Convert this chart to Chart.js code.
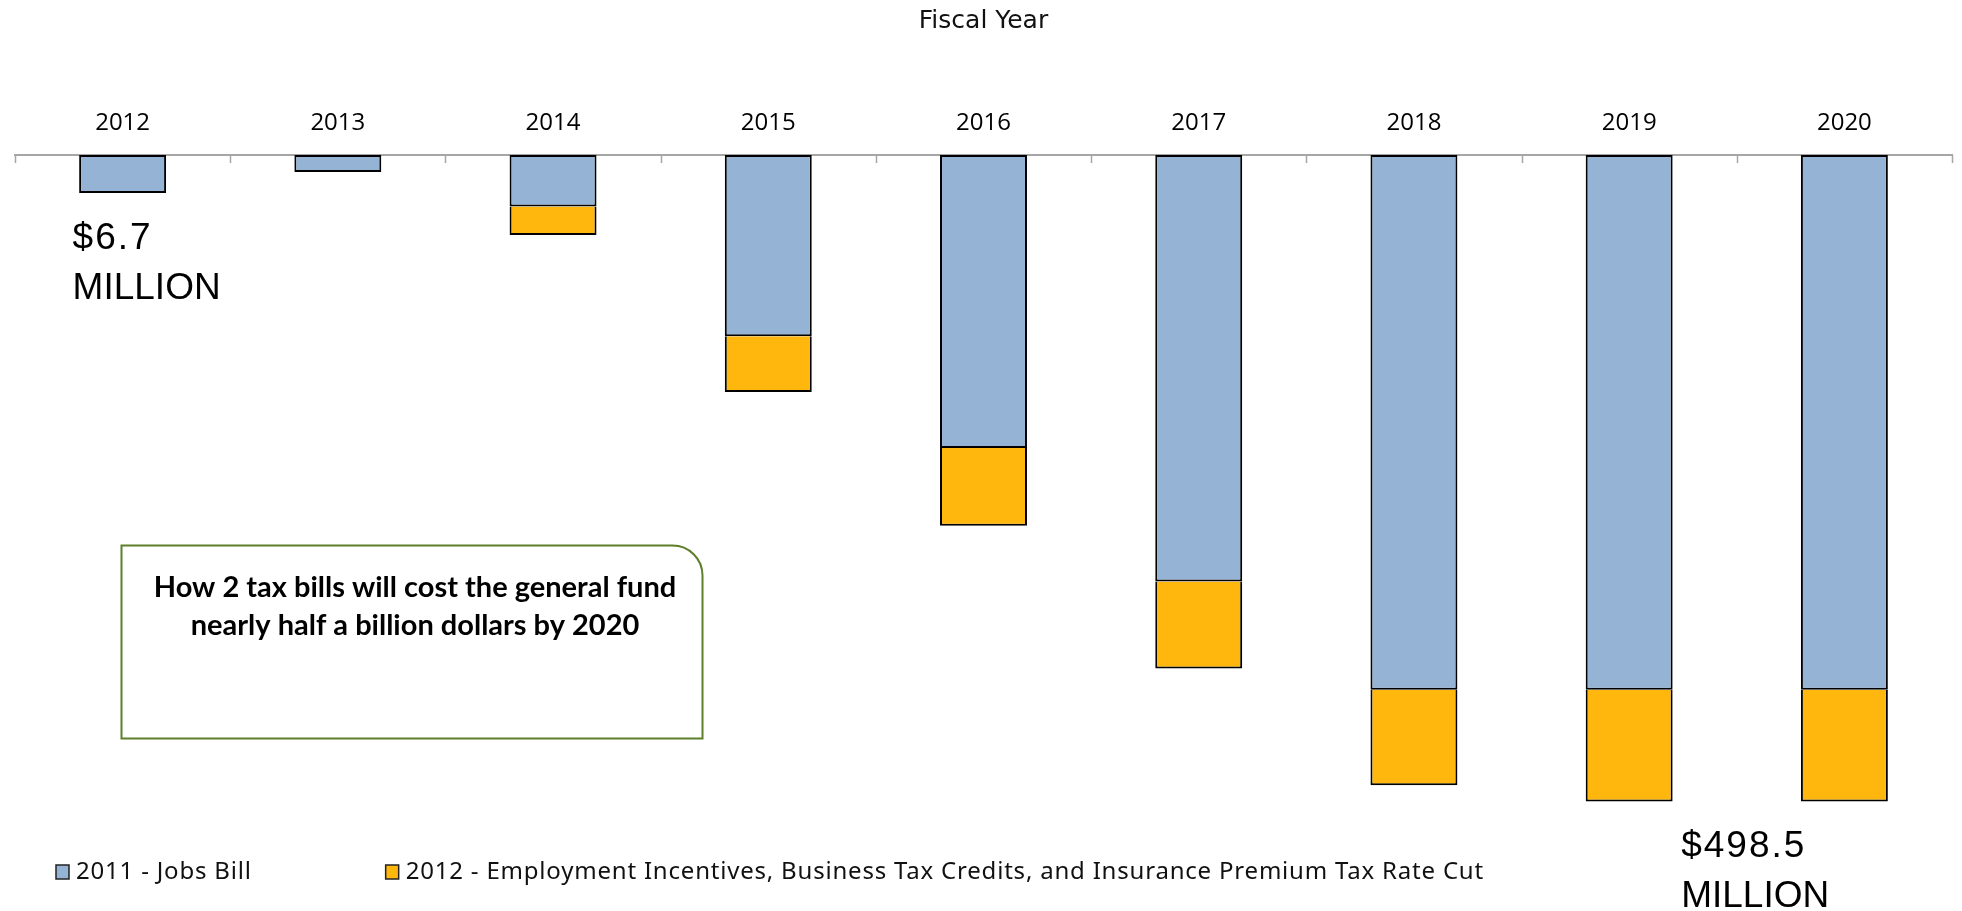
<!DOCTYPE html>
<html>
<head>
<meta charset="utf-8">
<script src="https://cdn.jsdelivr.net/npm/chart.js@4.4.1/dist/chart.umd.min.js"></script>
<style>
  html, body { margin: 0; padding: 0; background: #fff; }
  #wrap { width: 1962px; height: 911px; position: relative; }
</style>
</head>
<body>
<div id="wrap"><canvas id="costChart"></canvas></div>
<script>
// values in $ millions
const years = ["2012", "2013", "2014", "2015", "2016", "2017", "2018", "2019", "2020"];
const jobsBill = [29.3, 13.1, 39.8, 139.8, 226.0, 328.8, 412.3, 412.3, 412.3];
const employmentIncentives = [null, null, 21.9, 43.0, 59.9, 67.1, 73.8, 86.2, 86.2];

const seriesNames = [
  "2011 - Jobs Bill",
  "2012 - Employment Incentives, Business Tax Credits, and Insurance Premium Tax Rate Cut",
];
const seriesColors = ["#95B3D4", "#FFB70D"];
const axisTitle = "Fiscal Year";
const yMax = 529;

const boxLines = ["How 2 tax bills will cost the general fund", "nearly half a billion dollars by 2020"];
const firstCallout = ["$6.7", "MILLION"];
const lastCallout = ["$498.5", "MILLION"];

// small tick marks hanging under the axis line, at the category boundaries
const axisTicks = {
  id: "axisTicks",
  afterDraw(chart) {
    const { ctx } = chart;
    const x = chart.scales.x;
    const step = (x.right - x.left) / years.length;
    ctx.save();
    ctx.strokeStyle = "#A6A6A6";
    ctx.lineWidth = 1.5;
    for (let i = 0; i <= years.length; i++) {
      const px = Math.round(x.left + i * step) + 0.5;
      ctx.beginPath();
      ctx.moveTo(px, x.bottom);
      ctx.lineTo(px, x.bottom + 8);
      ctx.stroke();
    }
    ctx.restore();
  },
};

// "$6.7 MILLION" and "$498.5 MILLION" notes
const callouts = {
  id: "callouts",
  afterDraw(chart) {
    const { ctx } = chart;
    const x = chart.scales.x;
    const y = chart.scales.y;
    const total = (i) => (jobsBill[i] || 0) + (employmentIncentives[i] || 0);
    const notes = [
      { idx: 0, dx: -50, lines: firstCallout },
      { idx: 7, dx: 52, lines: lastCallout },
    ];
    ctx.save();
    ctx.fillStyle = "#000";
    ctx.textAlign = "left";
    ctx.textBaseline = "alphabetic";
    ctx.font = "37px 'Liberation Sans'";
    notes.forEach((n) => {
      const left = x.getPixelForValue(n.idx) + n.dx;
      const base = y.getPixelForValue(total(n.idx)) + 56;
      ctx.letterSpacing = "2px";
      ctx.fillText(n.lines[0], left, base);
      ctx.letterSpacing = "0px";
      ctx.fillText(n.lines[1], left, base + 50);
    });
    ctx.restore();
  },
};

// green framed text box
const noteBox = {
  id: "noteBox",
  afterDraw(chart) {
    const { ctx } = chart;
    const l = 121.5, t = 545.5, r = 702.5, b = 738.5, rad = 30;
    ctx.save();
    ctx.fillStyle = "#fff";
    ctx.strokeStyle = "#5E7F2A";
    ctx.lineWidth = 2;
    ctx.beginPath();
    ctx.moveTo(l, t);
    ctx.lineTo(r - rad, t);
    ctx.arcTo(r, t, r, t + rad, rad);
    ctx.lineTo(r, b);
    ctx.lineTo(l, b);
    ctx.closePath();
    ctx.fill();
    ctx.stroke();
    ctx.fillStyle = "#000";
    ctx.font = "bold 29px Lato";
    ctx.textAlign = "center";
    ctx.textBaseline = "alphabetic";
    ctx.fillText(boxLines[0], 415, 597, 540);
    ctx.fillText(boxLines[1], 415, 635, 540);
    ctx.restore();
  },
};

// legend row along the bottom
const bottomLegend = {
  id: "bottomLegend",
  afterDraw(chart) {
    const { ctx } = chart;
    const cy = 872;
    let cx = 56;
    ctx.save();
    ctx.font = "24px 'Noto Sans'";
    ctx.letterSpacing = "0.8px";
    ctx.textAlign = "left";
    ctx.textBaseline = "middle";
    seriesNames.forEach((name, i) => {
      ctx.fillStyle = seriesColors[i];
      ctx.fillRect(cx, cy - 7, 13, 14);
      ctx.strokeStyle = "#222";
      ctx.lineWidth = 1.5;
      ctx.strokeRect(cx, cy - 7, 13, 14);
      ctx.fillStyle = "#111";
      ctx.fillText(name, cx + 20, cy);
      cx += 20 + ctx.measureText(name).width + 134;
    });
    ctx.restore();
  },
};

new Chart(document.getElementById("costChart").getContext("2d"), {
  type: "bar",
  data: {
    labels: years,
    datasets: [
      {
        label: seriesNames[0],
        data: jobsBill,
        backgroundColor: seriesColors[0],
        borderColor: "#000",
        borderWidth: 2,
        borderSkipped: false,
      },
      {
        label: seriesNames[1],
        data: employmentIncentives,
        backgroundColor: seriesColors[1],
        borderColor: "#000",
        borderWidth: 2,
        borderSkipped: "start",
      },
    ],
  },
  options: {
    responsive: true,
    maintainAspectRatio: false,
    animation: false,
    categoryPercentage: 1,
    barPercentage: 0.404,
    layout: { padding: { top: 0, left: 15, right: 10, bottom: 70 } },
    plugins: {
      legend: { display: false },
      tooltip: { enabled: false },
    },
    scales: {
      x: {
        position: "top",
        stacked: true,
        offset: true,
        grid: { display: false, drawTicks: false },
        border: { display: true, color: "#A6A6A6", width: 2 },
        ticks: {
          color: "#000",
          font: { family: "Open Sans", size: 24 },
          padding: 17,
          maxRotation: 0,
          autoSkip: false,
        },
        title: {
          display: true,
          text: axisTitle,
          color: "#111",
          font: { family: "DejaVu Sans", size: 25 },
          padding: { top: 6, bottom: 0 },
        },
        afterFit: (scale) => {
          scale.height = 155;
        },
      },
      y: {
        stacked: true,
        reverse: true,
        min: 0,
        max: yMax,
        display: false,
      },
    },
  },
  plugins: [axisTicks, callouts, noteBox, bottomLegend],
});
</script>
</body>
</html>
